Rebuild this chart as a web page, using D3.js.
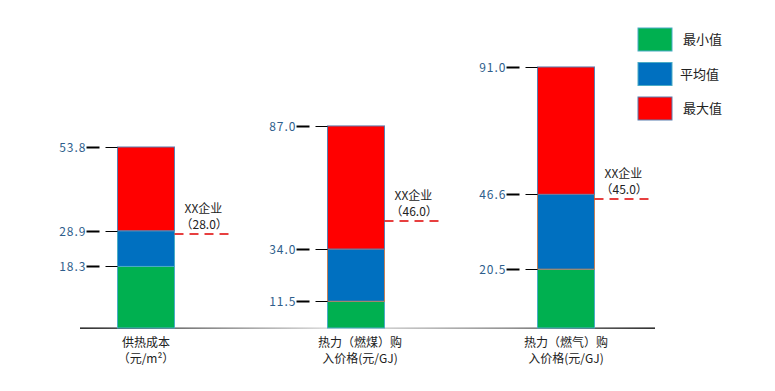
<!DOCTYPE html>
<html lang="zh">
<head>
<meta charset="UTF-8">
<title>热价对比</title>
<script src="https://d3js.org/d3.v7.min.js"></script>
<style>
    body { margin: 0; background: #fff; }
    svg { font-family: "Noto Sans CJK SC", sans-serif; }
    .tick-label { fill: #2E5E8C; font-size: 12px; letter-spacing: 1px; }
    .note { fill: #222; font-size: 12px; }
    .cat { fill: #222; font-size: 12px; }
    .legend text { fill: #222; font-size: 13px; }
</style>
</head>
<body>
<div id="chart"></div>
<script>
// categories and values
const categories = ["供热成本", "热力（燃煤）购入价格", "热力（燃气）购入价格"];
const catLines = [["供热成本", "（元/m²）"], ["热力（燃煤）购", "入价格(元/GJ)"], ["热力（燃气）购", "入价格(元/GJ)"]];
const minValues = [18.3, 11.5, 20.5];
const avgValues = [28.9, 34.0, 46.6];
const maxValues = [53.8, 87.0, 91.0];
const companyValues = [28.0, 46.0, 45.0];
// each bar has its own value axis
const axisMax = [85.6, 124.0, 100.4];
const seriesNames = ["最小值", "平均值", "最大值"];
const seriesColors = ["#00B050", "#0070C0", "#FF0000"];

const width = 775, height = 391;
const baseY = 328, topY = 40;
const barW = 57;

const svg = d3.select("#chart").append("svg")
    .attr("width", width).attr("height", height);

const x = d3.scalePoint().domain(categories).range([146, 566]);
const yScales = categories.map((c, i) =>
    d3.scaleLinear().domain([0, axisMax[i]]).range([baseY, topY]));

// baseline with soft gradient
const grad = svg.append("defs").append("linearGradient")
    .attr("id", "base").attr("x1", "0%").attr("x2", "100%");
grad.append("stop").attr("offset", "0%").attr("stop-color", "#000");
grad.append("stop").attr("offset", "45%").attr("stop-color", "#ddd");
grad.append("stop").attr("offset", "75%").attr("stop-color", "#777");
grad.append("stop").attr("offset", "100%").attr("stop-color", "#000");
svg.append("rect")
    .attr("x", 80).attr("y", baseY - 0.5).attr("width", 575).attr("height", 1.3)
    .attr("fill", "url(#base)");

categories.forEach((cat, i) => {
    const y = yScales[i];
    const left = x(cat) - barW / 2;
    const right = left + barW;
    const segs = [
        { lo: 0, hi: minValues[i], color: seriesColors[0], stroke: "#4BACC6" },
        { lo: minValues[i], hi: avgValues[i], color: seriesColors[1], stroke: i === 0 ? "#4BACC6" : "#C0805A" },
        { lo: avgValues[i], hi: maxValues[i], color: seriesColors[2], stroke: "#5B7FB0" }
    ];
    const g = svg.append("g");
    g.selectAll("rect").data(segs).enter().append("rect")
        .attr("x", left)
        .attr("y", d => y(d.hi))
        .attr("width", barW)
        .attr("height", d => y(d.lo) - y(d.hi))
        .attr("fill", d => d.color)
        .attr("stroke", d => d.stroke)
        .attr("stroke-width", 1);

    // value marks on the left
    const marks = [minValues[i], avgValues[i], maxValues[i]];
    marks.forEach(v => {
        const yy = Math.round(y(v)) + 0.5;
        g.append("line").attr("x1", left - 31).attr("x2", left - 18)
            .attr("y1", yy).attr("y2", yy)
            .attr("stroke", "#000").attr("stroke-width", 2);
        g.append("line").attr("x1", left - 12).attr("x2", left)
            .attr("y1", yy).attr("y2", yy)
            .attr("stroke", "#000").attr("stroke-width", 1);
        g.append("text").attr("class", "tick-label")
            .attr("x", left - 31).attr("y", yy + 4)
            .attr("text-anchor", "end")
            .text(v.toFixed(1));
    });

    // company reference
    const cy = Math.round(y(companyValues[i]));
    g.append("line")
        .attr("x1", right).attr("x2", right + 60)
        .attr("y1", cy).attr("y2", cy)
        .attr("stroke", "#E00000").attr("stroke-width", 1.5)
        .attr("stroke-dasharray", "9,6");
    g.append("text").attr("class", "note")
        .attr("x", right + 10).attr("y", cy - 21)
        .text("XX企业");
    g.append("text").attr("class", "note")
        .attr("x", right + 6).attr("y", cy - 5)
        .text("（" + companyValues[i].toFixed(1) + "）");

    // category label
    const lab = g.append("text").attr("class", "cat")
        .attr("text-anchor", "middle");
    catLines[i].forEach((t, k) => {
        lab.append("tspan").attr("x", x(cat) + (i === 1 ? 4 : 0))
            .attr("y", 347 + k * 16).text(t);
    });
});

// legend
const legend = svg.append("g").attr("class", "legend");
seriesNames.forEach((name, k) => {
    legend.append("rect")
        .attr("x", 638).attr("y", 28 + k * 34.5)
        .attr("width", 34).attr("height", 23)
        .attr("fill", seriesColors[k])
        .attr("stroke", k === 2 ? "#5B7FB0" : "#4BACC6");
    legend.append("text")
        .attr("x", k === 1 ? 680 : 683).attr("y", 28 + k * 34.5 + 16)
        .text(name);
});
</script>
</body>
</html>
